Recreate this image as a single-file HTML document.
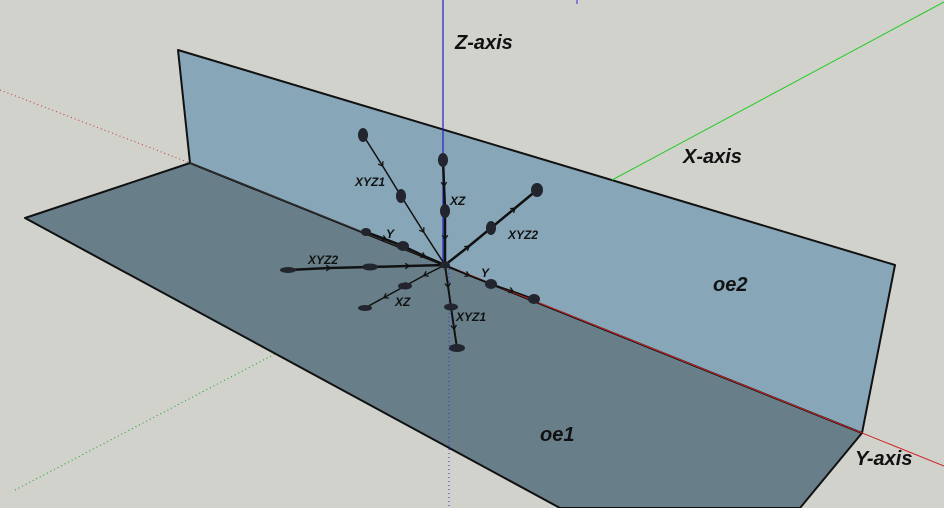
<!DOCTYPE html>
<html><head><meta charset="utf-8"><style>
html,body{margin:0;padding:0;background:#d2d2cd;}
svg{display:block}
text{font-family:"Liberation Sans",sans-serif;font-weight:bold;font-style:italic;fill:#111}
</style></head><body>
<svg width="944" height="508" viewBox="0 0 944 508">
<defs>
<marker id="ar" viewBox="0 0 10 10" refX="5" refY="5" markerWidth="7" markerHeight="7" markerUnits="userSpaceOnUse" orient="auto"><path d="M1,1 L7,5 L1,9" fill="none" stroke="#111" stroke-width="1.8"/></marker>
</defs>
<rect width="944" height="508" fill="#d2d2cd"/>
<line x1="0" y1="90" x2="190" y2="163" stroke="#c33" stroke-width="1" stroke-dasharray="1,3"/>
<line x1="15" y1="490" x2="445" y2="265" stroke="#3a3" stroke-width="1" stroke-dasharray="1,3"/>
<line x1="577" y1="0" x2="577" y2="4" stroke="#33c" stroke-width="1"/>
<polygon points="25,218 190,163 862,433 800,508 560,508" fill="#687f8a" stroke="#111" stroke-width="2" stroke-linejoin="round"/>
<line x1="449" y1="265" x2="449" y2="508" stroke="#33c" stroke-width="1" stroke-dasharray="1,3"/>
<line x1="15" y1="490" x2="445" y2="265" stroke="#3a3" stroke-width="1" stroke-dasharray="1,3" opacity="0.7"/>
<polygon points="178,50 895,265 862,433 190,163" fill="#87a7b8" stroke="#111" stroke-width="2" stroke-linejoin="round"/>
<line x1="190" y1="163" x2="445" y2="265" stroke="#333" stroke-width="1"/>
<line x1="612" y1="180" x2="944" y2="2" stroke="#2c2" stroke-width="1"/>
<line x1="443" y1="0" x2="443" y2="265" stroke="#22c" stroke-width="1.2"/>
<line x1="445" y1="265" x2="944" y2="466" stroke="#c22" stroke-width="1"/>
<g stroke="#111" stroke-width="1.5">
<polyline points="363,135 382,165 401,196 423,231 445,265" fill="none" marker-mid="url(#ar)"/>
<polyline points="443,160 444,185 445,210 445,238 445,265" fill="none" stroke-width="2.5" marker-mid="url(#ar)"/>
<polyline points="445,265 468,247 491,228 514,209 537,190" fill="none" stroke-width="2.5" marker-mid="url(#ar)"/>
<polyline points="366,232 385,239 403,246 424,256 445,265" fill="none" stroke-width="2.5" marker-mid="url(#ar)"/>
<polyline points="288,270 329,268 370,267 408,266 445,265" fill="none" stroke-width="2.5" marker-mid="url(#ar)"/>
<polyline points="445,265 468,275 491,284 512,291 534,299" fill="none" marker-mid="url(#ar)"/>
<polyline points="445,265 425,275 405,286 385,297 365,308" fill="none" marker-mid="url(#ar)"/>
<polyline points="445,265 448,286 451,307 454,328 457,348" fill="none" stroke-width="2" marker-mid="url(#ar)"/>
</g>
<g fill="#22252d">
<ellipse cx="363" cy="135" rx="5" ry="7"/><ellipse cx="401" cy="196" rx="5" ry="7"/>
<ellipse cx="443" cy="160" rx="5" ry="7"/><ellipse cx="445" cy="211" rx="5" ry="7"/>
<ellipse cx="537" cy="190" rx="6" ry="7"/><ellipse cx="491" cy="228" rx="5" ry="7"/>
<ellipse cx="366" cy="232" rx="5" ry="4"/><ellipse cx="403" cy="246" rx="6" ry="5"/>
<ellipse cx="288" cy="270" rx="8" ry="3"/><ellipse cx="370" cy="267" rx="8" ry="3.5"/>
<ellipse cx="491" cy="284" rx="6" ry="5"/><ellipse cx="534" cy="299" rx="6" ry="5"/>
<ellipse cx="365" cy="308" rx="7" ry="3"/><ellipse cx="405" cy="286" rx="7" ry="3.5"/>
<ellipse cx="451" cy="307" rx="7" ry="3.5"/><ellipse cx="457" cy="348" rx="8" ry="4"/>
<ellipse cx="445" cy="265" rx="5" ry="3.5"/>
</g>
<g font-size="12">
<text x="355" y="186">XYZ1</text>
<text x="450" y="205">XZ</text>
<text x="508" y="239">XYZ2</text>
<text x="386" y="238">Y</text>
<text x="308" y="264">XYZ2</text>
<text x="481" y="277">Y</text>
<text x="395" y="306">XZ</text>
<text x="456" y="321">XYZ1</text>
</g>
<g font-size="20">
<text x="455" y="49">Z-axis</text>
<text x="683" y="163">X-axis</text>
<text x="855" y="465">Y-axis</text>
<text x="713" y="291">oe2</text>
<text x="540" y="441">oe1</text>
</g>
</svg>
</body></html>
